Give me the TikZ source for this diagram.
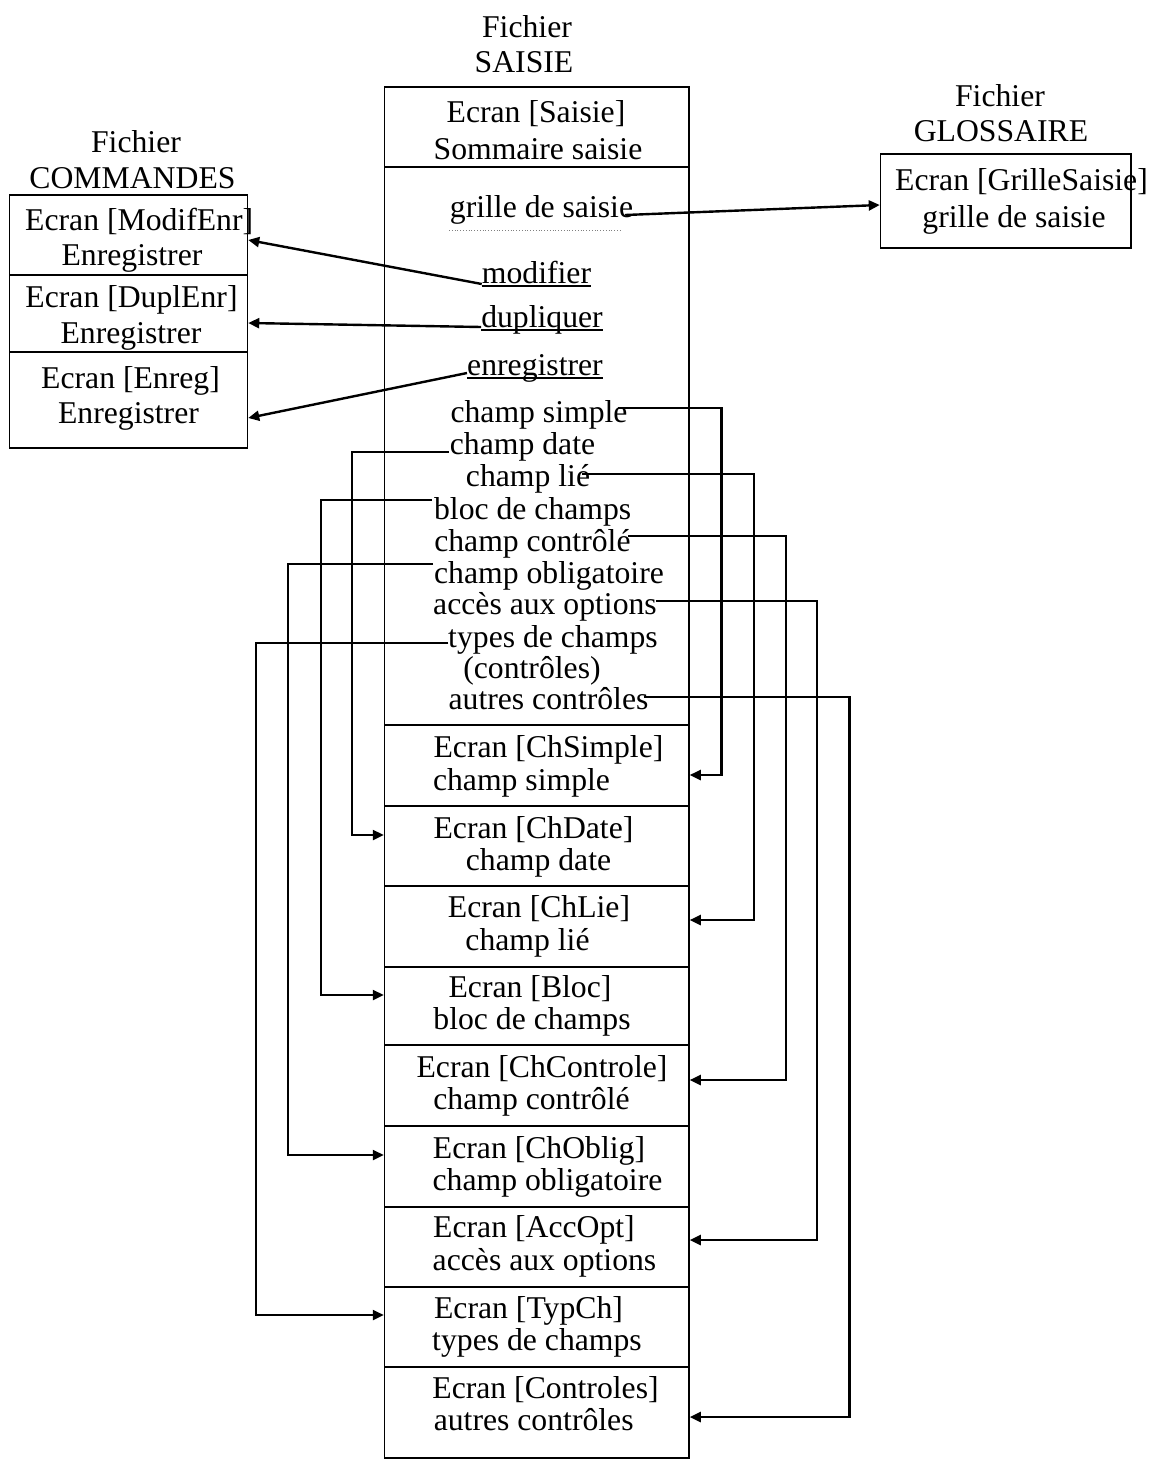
\documentclass[tikz,border=0pt]{standalone}
\usepackage{fontspec}
\setmainfont{Liberation Serif}
\usetikzlibrary{arrows.meta}
\begin{document}
\begin{tikzpicture}[x=1pt,y=-1pt,
  every node/.style={font=\fontsize{31.7}{36}\selectfont},
  frame/.style={draw, line width=1.5pt, inner sep=0pt},
  colrow/.style={frame, minimum width=304.5pt},
  cmdrow/.style={frame, minimum width=238pt},
  lbl/.style={inner sep=0pt, anchor=base},
  lblw/.style={inner sep=0pt, anchor=base west},
  uline/.style={line width=1.3pt},
  conn/.style={line width=2.4pt, line join=miter, -{Triangle[length=11pt,width=10pt]}}]
\useasboundingbox (0,0) rectangle (1150,1461);

% ---------------- Fichier SAISIE : main column ----------------
\node[lbl] (tSaisie1) at (527,38) {Fichier};
\node[lbl] (tSaisie2) at (524,73) {SAISIE};

\node[colrow, minimum height=80pt]  (hdr)      at (536.75,127)    {};
\node[colrow, minimum height=558pt] (menu)     at (536.75,446)    {};
\node[colrow, minimum height=81pt]  (rowSimple) at (536.75,765.5) {};
\node[colrow, minimum height=80pt]  (rowDate)  at (536.75,846)    {};
\node[colrow, minimum height=81pt]  (rowLie)   at (536.75,926.5)  {};
\node[colrow, minimum height=78pt]  (rowBloc)  at (536.75,1006)   {};
\node[colrow, minimum height=81pt]  (rowCtrl)  at (536.75,1085.5) {};
\node[colrow, minimum height=81pt]  (rowOblig) at (536.75,1166.5) {};
\node[colrow, minimum height=80pt]  (rowAcc)   at (536.75,1247)   {};
\node[colrow, minimum height=80pt]  (rowTyp)   at (536.75,1327)   {};
\node[colrow, minimum height=91pt]  (rowCtrls) at (536.75,1412.5) {};

% header screen
\node[lbl] (hdrA) at (536,123) {Ecran [Saisie]};
\node[lbl] (hdrB) at (538,160) {Sommaire saisie};

% menu entries
\node[lbl] (grille) at (541.5,217) {grille de saisie};
\draw[dotted, gray, line width=0.8pt] (449,230) -- (621,230);
\node[lbl] (mod) at (536.5,283) {modifier};
\node[lbl] (dup) at (542,327) {dupliquer};
\node[lbl] (enr) at (535,375) {enregistrer};
\draw[uline] ([yshift=-3pt]mod.base west) -- ([yshift=-3pt]mod.base east);
\draw[uline] ([yshift=-3pt]dup.base west) -- ([yshift=-3pt]dup.base east);
\draw[uline] ([yshift=-3pt]enr.base west) -- ([yshift=-3pt]enr.base east);

\node[lbl] (mSimple) at (539,422)   {champ simple};
\node[lbl] (mDate)   at (522.5,454) {champ date};
\node[lbl] (mLie)    at (528,486)   {champ lié};
\node[lbl] (mBloc)   at (532.7,519) {bloc de champs};
\node[lbl] (mCtrl)   at (532.4,551) {champ contrôlé};
\node[lbl] (mOblig)  at (549,583)   {champ obligatoire};
\node[lbl] (mAcc)    at (545,614)   {accès aux options};
\node[lbl] (mTyp)    at (553,647)   {types de champs};
\node[lbl] (mTyp2)   at (532,678)   {(contrôles)};
\node[lbl] (mAutres) at (548.5,709) {autres contrôles};

% sub-screens
\node[lbl] (rSimpleA) at (548.5,757)  {Ecran [ChSimple]};
\node[lbl] (rSimpleB) at (521.5,790)  {champ simple};
\node[lbl] (rDateA)   at (533.5,838)  {Ecran [ChDate]};
\node[lbl] (rDateB)   at (538.5,870)  {champ date};
\node[lbl] (rLieA)    at (539,917)    {Ecran [ChLie]};
\node[lbl] (rLieB)    at (527.5,950)  {champ lié};
\node[lbl] (rBlocA)   at (530,997)    {Ecran [Bloc]};
\node[lbl] (rBlocB)   at (532,1029)   {bloc de champs};
\node[lbl] (rCtrlA)   at (542,1077)   {Ecran [ChControle]};
\node[lbl] (rCtrlB)   at (531.5,1109) {champ contrôlé};
\node[lbl] (rObligA)  at (539,1158)   {Ecran [ChOblig]};
\node[lbl] (rObligB)  at (547.5,1190) {champ obligatoire};
\node[lbl] (rAccA)    at (534,1237)   {Ecran [AccOpt]};
\node[lbl] (rAccB)    at (544.5,1270) {accès aux options};
\node[lbl] (rTypA)    at (528.5,1318) {Ecran [TypCh]};
\node[lbl] (rTypB)    at (537,1350)   {types de champs};
\node[lbl] (rCtrlsA)  at (545.5,1398) {Ecran [Controles]};
\node[lbl] (rCtrlsB)  at (533.7,1430) {autres contrôles};

% ---------------- Fichier COMMANDES ----------------
\node[lbl] (tCmd1) at (136,152)   {Fichier};
\node[lbl] (tCmd2) at (132.5,188) {COMMANDES};
\node[cmdrow, minimum height=80pt] (cmdModif) at (128.5,235)   {};
\node[cmdrow, minimum height=77pt] (cmdDupl)  at (128.5,313.5) {};
\node[cmdrow, minimum height=96pt] (cmdEnreg) at (128.5,400)   {};
\node[lblw] (cModifA) at (25,230)  {Ecran [ModifEnr]};
\node[lbl]  (cModifB) at (132,265) {Enregistrer};
\node[lbl]  (cDuplA) at (131.5,307) {Ecran [DuplEnr]};
\node[lbl]  (cDuplB) at (131,343)   {Enregistrer};
\node[lbl]  (cEnregA) at (130.5,388) {Ecran [Enreg]};
\node[lbl]  (cEnregB) at (128.5,423) {Enregistrer};

% ---------------- Fichier GLOSSAIRE ----------------
\node[lbl] (tGl1) at (1000,107) {Fichier};
\node[lbl] (tGl2) at (1001,142) {GLOSSAIRE};
\node[frame, minimum width=250.5pt, minimum height=94pt] (gloss) at (1005.75,201) {};
\node[lblw] (glA) at (895,190)  {Ecran [GrilleSaisie]};
\node[lbl]  (glB) at (1014,227) {grille de saisie};

% ---------------- links ----------------
\draw[conn] ([xshift=-8pt,yshift=2pt]grille.base east) -- (gloss.west |- 0,205);
\draw[conn] ([yshift=-1pt]mod.base west) -- (cmdModif.east |- 0,240);
\draw[conn] (dup.base west) -- (cmdDupl.east |- 0,323);
\draw[conn] ([yshift=2pt]enr.base west) -- (cmdEnreg.east |- 0,418);

\coordinate (sSimple) at (618,408);
\coordinate (sDate)   at (448.6,452);
\coordinate (sLie)    at (582,474);
\coordinate (sBloc)   at (431.6,500);
\coordinate (sCtrl)   at (628,536);
\coordinate (sOblig)  at (433,564);
\coordinate (sAcc)    at (655.6,601);
\coordinate (sTyp)    at (448.4,643);
\coordinate (sAutres) at (643.5,697);

\draw[conn] (sSimple) -| (721.5,775)  -- (rowSimple.east |- 0,775);
\draw[conn] (sDate)   -| (352,835)    -- (rowDate.west |- 0,835);
\draw[conn] (sLie)    -| (754,920)    -- (rowLie.east |- 0,920);
\draw[conn] (sBloc)   -| (321,995)    -- (rowBloc.west |- 0,995);
\draw[conn] (sCtrl)   -| (786,1080)   -- (rowCtrl.east |- 0,1080);
\draw[conn] (sOblig)  -| (288,1155)   -- (rowOblig.west |- 0,1155);
\draw[conn] (sAcc)    -| (817,1240)   -- (rowAcc.east |- 0,1240);
\draw[conn] (sTyp)    -| (256,1315)   -- (rowTyp.west |- 0,1315);
\draw[conn] (sAutres) -| (849.5,1417) -- (rowCtrls.east |- 0,1417);
\end{tikzpicture}
\end{document}
